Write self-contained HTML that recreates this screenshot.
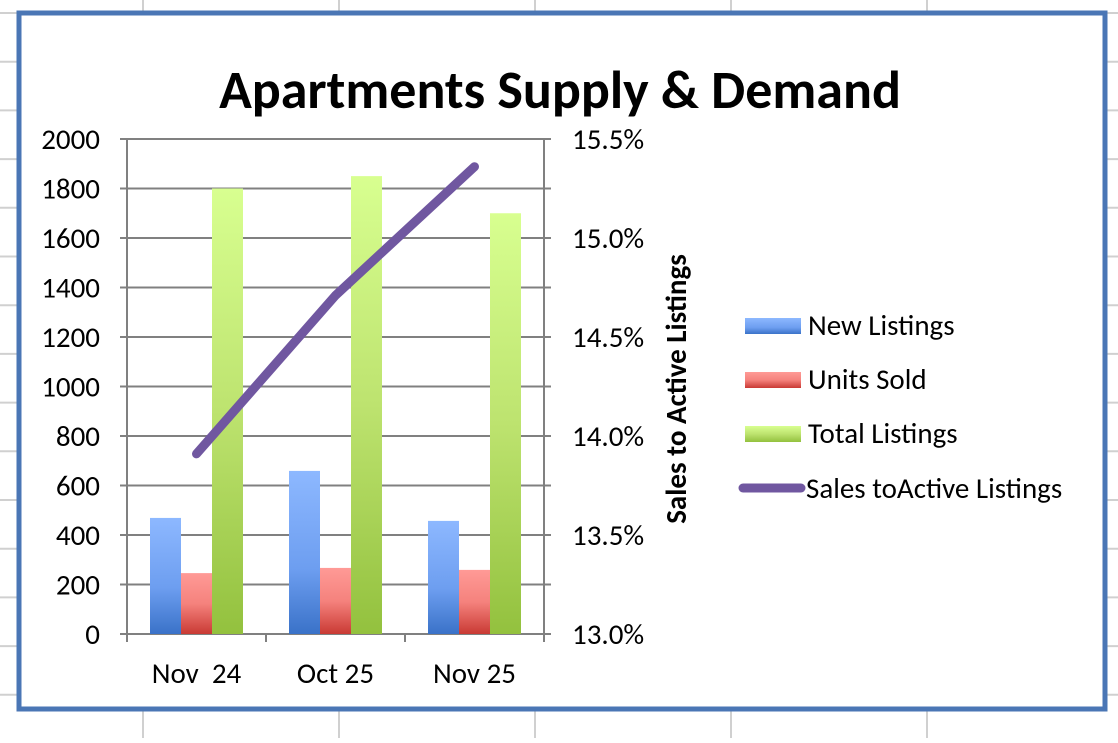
<!DOCTYPE html>
<html><head><meta charset="utf-8"><style>
body{margin:0;width:1118px;height:738px;overflow:hidden;background:#fff;font-family:"Liberation Sans",Carlito,sans-serif;}
svg text{font-family:Carlito,"Liberation Sans",sans-serif;}
</style></head><body>
<svg width="1118" height="738">
<defs>
<linearGradient id="gb" x1="0" y1="0" x2="0" y2="1"><stop offset="0" stop-color="#8db8ff"/><stop offset="0.6" stop-color="#6d9ef0"/><stop offset="1" stop-color="#3a72c8"/></linearGradient>
<linearGradient id="gr" x1="0" y1="0" x2="0" y2="1"><stop offset="0" stop-color="#ff9a96"/><stop offset="0.5" stop-color="#f5827d"/><stop offset="1" stop-color="#c93a34"/></linearGradient>
<linearGradient id="gg" x1="0" y1="0" x2="0" y2="1"><stop offset="0" stop-color="#d8ff90"/><stop offset="0.5" stop-color="#bde36f"/><stop offset="1" stop-color="#93c13e"/></linearGradient>
</defs>
<g id="sheet" stroke="#d0d0d0" stroke-width="2"></g>
<rect x="19" y="13" width="1086" height="696" fill="#fff" stroke="#4a76b5" stroke-width="5"/>
<text x="560" y="108" text-anchor="middle" font-size="54" font-weight="bold">Apartments Supply &amp; Demand</text>
<g id="plot"></g>
<text transform="translate(686,389) rotate(-90)" text-anchor="middle" font-size="29" font-weight="bold">Sales to Active Listings</text>
<g font-size="29">
<rect x="745" y="318" width="56" height="16" fill="url(#gb)"/>
<text x="808" y="335">New Listings</text>
<rect x="745" y="372" width="56" height="16" fill="url(#gr)"/>
<text x="808" y="389">Units Sold</text>
<rect x="745" y="426" width="56" height="16" fill="url(#gg)"/>
<text x="808" y="443">Total Listings</text>
<line x1="743" y1="488" x2="801" y2="488" stroke="#7057a0" stroke-width="9" stroke-linecap="round"/>
<text x="806" y="498">Sales toActive Listings</text>
</g>
</svg>
<script>
const categories=["Nov\u00a0\u00a024","Oct 25","Nov 25"];
const newListings=[469,659,457];
const unitsSold=[246,267,259];
const totalListings=[1800,1850,1700];
const ratio=[13.91,14.71,15.36];
const leftTicks=[0,200,400,600,800,1000,1200,1400,1600,1800,2000];
const rightTicks=[13.0,13.5,14.0,14.5,15.0,15.5];
const NS="http://www.w3.org/2000/svg";
function mk(t,a,p){const e=document.createElementNS(NS,t);for(const k in a)e.setAttribute(k,a[k]);p.appendChild(e);return e;}
const sheet=document.getElementById('sheet');
[143,339,535,731,927].forEach(x=>{mk('line',{x1:x,y1:0,x2:x,y2:738},sheet);});
for(let y=13;y<738;y+=48.7){mk('line',{x1:0,y1:y,x2:1118,y2:y},sheet);}
const plot=document.getElementById('plot');
const X0=127,X1=544,Y0=634,Y1=139;
const yL=v=>Y0-(v/2000)*(Y0-Y1);
const yR=v=>Y0-((v-13)/2.5)*(Y0-Y1);
const cw=(X1-X0)/categories.length;
leftTicks.forEach(t=>{const y=yL(t);
 const g=mk('line',{x1:X0-7,y1:y,x2:X1+7,y2:y,stroke:'#808080','stroke-width':2},plot);
 
 const tx=mk('text',{x:100,y:y+10,'text-anchor':'end','font-size':29},plot);tx.textContent=t;
 });
rightTicks.forEach(t=>{const y=yR(t);
 const tx=mk('text',{x:572,y:y+10,'font-size':29},plot);tx.textContent=t.toFixed(1)+'%';
 });
const la=mk('line',{x1:X0,y1:Y1,x2:X0,y2:Y0+8,stroke:'#808080','stroke-width':2},plot);

const ra=mk('line',{x1:X1,y1:Y1,x2:X1,y2:Y0+8,stroke:'#808080','stroke-width':2},plot);

for(let i=0;i<=categories.length;i++){mk('line',{x1:X0+i*cw,y1:Y0,x2:X0+i*cw,y2:Y0+8,stroke:'#808080','stroke-width':2},plot);}
const bw=31;
categories.forEach((c,i)=>{
 const cx=X0+cw*(i+0.5);
 [[newListings,'url(#gb)','bar-new-listings'],[unitsSold,'url(#gr)','bar-units-sold'],[totalListings,'url(#gg)','bar-total-listings']].forEach((s,j)=>{
  const v=s[0][i];const r=mk('rect',{x:cx-1.5*bw+j*bw,y:yL(v),width:bw,height:Y0-yL(v),fill:s[1]},plot);
  });
 const t=mk('text',{x:cx,y:683,'text-anchor':'middle','font-size':29},plot);t.textContent=c;
 
});
const pts=ratio.map((v,i)=>(X0+cw*(i+0.5))+','+yR(v)).join(' ');
const pl=mk('polyline',{points:pts,fill:'none',stroke:'#7057a0','stroke-width':9,'stroke-linecap':'round','stroke-linejoin':'round'},plot);

</script>
</body></html>
